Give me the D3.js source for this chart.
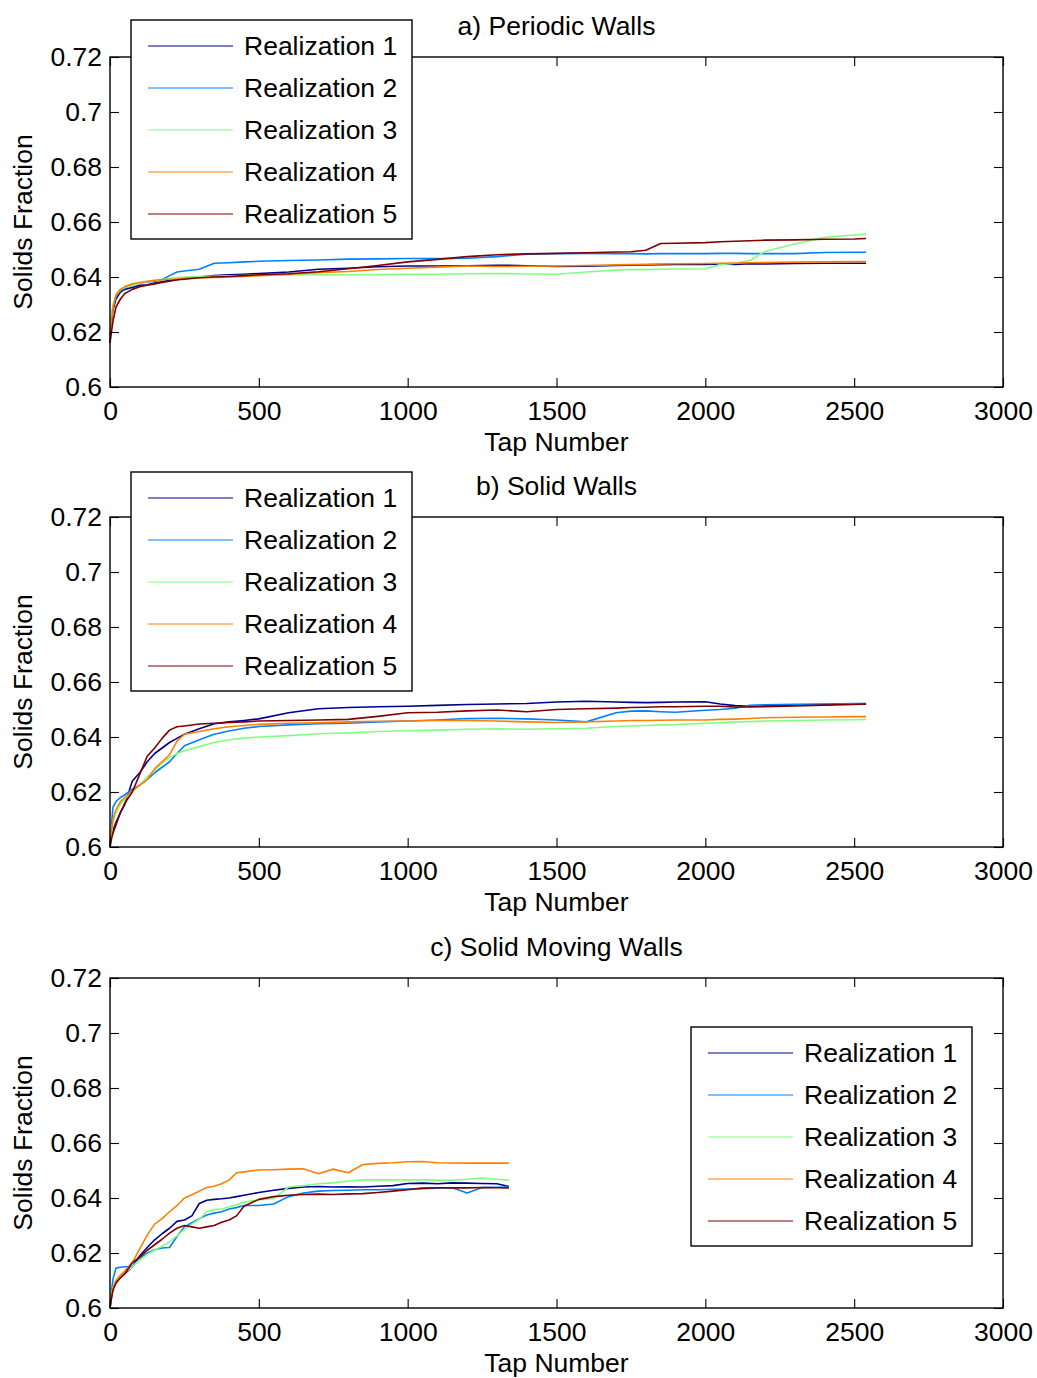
<!DOCTYPE html>
<html>
<head>
<meta charset="utf-8">
<script src="https://cdn.jsdelivr.net/npm/d3@7"></script>
<style>
  html, body { margin: 0; padding: 0; background: #fff; }
  svg { display: block; }
  text { font-family: "Liberation Sans", Arial, Helvetica, sans-serif; fill: #000; }
</style>
</head>
<body>
<svg id="chart" width="1037" height="1378"></svg>
<script>
// Tap numbers sampled for the long runs (panels a and b)
const tapsLong = [0,5,10,20,35,50,75,100,125,150,175,200,225,250,300,350,400,450,500,600,700,800,900,1000,1100,1200,1300,1400,1500,1600,1700,1750,1800,1850,1900,2000,2050,2100,2150,2200,2300,2400,2500,2540];
// Tap numbers sampled for the shorter moving-wall runs (panel c)
const tapsShort = [0,5,10,20,35,50,75,100,125,150,175,200,225,250,275,300,325,350,375,400,425,450,500,550,600,650,700,750,800,850,900,950,1000,1050,1100,1150,1200,1250,1300,1340];

const seriesNames = ["Realization 1","Realization 2","Realization 3","Realization 4","Realization 5"];
const seriesColors = ["#00008f","#0080ff","#80ff80","#ff8000","#800000"];

// a) Periodic walls
const periodic1 = [0.617,0.624,0.628,0.632,0.6345,0.6355,0.6362,0.637,0.6372,0.6378,0.6383,0.6388,0.639,0.6395,0.640,0.6405,0.6408,0.641,0.6413,0.6418,0.6428,0.6432,0.6437,0.644,0.644,0.6441,0.6443,0.6441,0.6438,0.6439,0.6442,0.6443,0.6444,0.6445,0.6446,0.6446,0.6447,0.6446,0.6448,0.6447,0.6449,0.645,0.645,0.645];
const periodic2 = [0.618,0.625,0.629,0.633,0.635,0.636,0.637,0.6378,0.6382,0.6385,0.639,0.6405,0.6418,0.6422,0.6428,0.645,0.6452,0.6455,0.6457,0.646,0.6462,0.6465,0.6466,0.6467,0.6467,0.6468,0.6474,0.6483,0.6485,0.6486,0.6485,0.6485,0.6484,0.6485,0.6485,0.6485,0.6486,0.6486,0.6485,0.6485,0.6485,0.6489,0.649,0.649];
const periodic3 = [0.618,0.626,0.630,0.6335,0.6355,0.6362,0.637,0.6378,0.6383,0.6388,0.639,0.6395,0.6398,0.640,0.6402,0.6403,0.6404,0.6405,0.6406,0.6407,0.6408,0.6408,0.6409,0.641,0.641,0.6412,0.6413,0.6411,0.641,0.6418,0.6425,0.6427,0.6427,0.6428,0.6429,0.643,0.6445,0.645,0.646,0.6493,0.652,0.6544,0.6553,0.6556];
const periodic4 = [0.616,0.624,0.629,0.6335,0.6355,0.6365,0.6375,0.638,0.6384,0.6388,0.639,0.6392,0.6393,0.6395,0.6397,0.6398,0.640,0.6402,0.6405,0.641,0.6416,0.642,0.6427,0.6432,0.6436,0.644,0.6438,0.6439,0.644,0.6442,0.6444,0.6445,0.6446,0.6447,0.6448,0.6449,0.645,0.6451,0.6452,0.6453,0.6454,0.6455,0.6456,0.6456];
const periodic5 = [0.616,0.620,0.624,0.629,0.632,0.634,0.6355,0.6365,0.637,0.6375,0.638,0.6385,0.639,0.6392,0.6397,0.640,0.6402,0.6405,0.6408,0.6412,0.6419,0.643,0.6442,0.6455,0.6464,0.6474,0.6481,0.6484,0.6486,0.6488,0.6491,0.6492,0.6497,0.6522,0.6523,0.6525,0.6528,0.653,0.6532,0.6534,0.6535,0.6537,0.6538,0.654];

// b) Solid walls
const solid1 = [0.601,0.604,0.606,0.609,0.6125,0.6155,0.624,0.627,0.631,0.634,0.636,0.638,0.6395,0.641,0.643,0.6448,0.6455,0.646,0.6466,0.6488,0.6503,0.6507,0.651,0.6512,0.6515,0.6518,0.652,0.6522,0.6527,0.653,0.6527,0.6526,0.6525,0.6526,0.6527,0.6528,0.652,0.6514,0.6512,0.6514,0.6516,0.6518,0.652,0.652];
const solid2 = [0.601,0.608,0.6145,0.6165,0.618,0.619,0.621,0.6225,0.6245,0.627,0.629,0.631,0.634,0.6368,0.639,0.641,0.6422,0.6432,0.6438,0.6444,0.6448,0.645,0.6455,0.6458,0.6462,0.6467,0.6468,0.6466,0.6462,0.6455,0.6488,0.6494,0.6495,0.6492,0.649,0.6497,0.65,0.6505,0.6515,0.6517,0.6519,0.652,0.6522,0.6522];
const solid3 = [0.600,0.605,0.609,0.6125,0.6155,0.6175,0.620,0.6225,0.6255,0.628,0.6305,0.6325,0.634,0.635,0.6365,0.638,0.639,0.6396,0.640,0.6405,0.6412,0.6415,0.642,0.6423,0.6425,0.6428,0.643,0.6428,0.643,0.6432,0.6438,0.644,0.6442,0.6444,0.6445,0.645,0.6453,0.6455,0.6456,0.6458,0.646,0.6462,0.6463,0.6464];
const solid4 = [0.600,0.606,0.610,0.6135,0.6165,0.618,0.6205,0.6225,0.6245,0.6285,0.631,0.6335,0.6385,0.641,0.642,0.643,0.6437,0.6442,0.6446,0.645,0.6452,0.6455,0.6457,0.6458,0.646,0.646,0.6458,0.6455,0.6453,0.6455,0.6458,0.646,0.646,0.6461,0.6462,0.6462,0.6464,0.6465,0.6467,0.647,0.6472,0.6473,0.6474,0.6474];
const solid5 = [0.600,0.603,0.605,0.608,0.6125,0.616,0.620,0.6265,0.633,0.636,0.6395,0.6425,0.6437,0.644,0.6447,0.645,0.6453,0.6455,0.6458,0.646,0.6462,0.6464,0.6475,0.6488,0.649,0.6495,0.6498,0.6492,0.65,0.6503,0.6505,0.6507,0.6508,0.651,0.651,0.6512,0.6512,0.6509,0.6509,0.651,0.6513,0.6516,0.6518,0.652];

// c) Solid moving walls
const moving1 = [0.600,0.6045,0.607,0.6095,0.611,0.6125,0.615,0.619,0.622,0.6248,0.627,0.629,0.6315,0.632,0.6335,0.638,0.6392,0.6395,0.6397,0.640,0.6405,0.641,0.642,0.6428,0.6435,0.644,0.6442,0.644,0.6441,0.644,0.6443,0.6445,0.6453,0.6454,0.6452,0.6455,0.6454,0.6453,0.6452,0.6442];
const moving2 = [0.600,0.606,0.6105,0.6145,0.6148,0.615,0.6152,0.618,0.620,0.6212,0.6218,0.622,0.626,0.6295,0.631,0.6325,0.6338,0.6345,0.635,0.636,0.6365,0.6373,0.6373,0.6378,0.6405,0.6418,0.6425,0.6427,0.6428,0.643,0.643,0.6432,0.6433,0.6434,0.6436,0.6437,0.6418,0.6438,0.6439,0.644];
const moving3 = [0.600,0.605,0.6075,0.610,0.6115,0.613,0.615,0.6175,0.6195,0.621,0.6225,0.624,0.6262,0.6285,0.6305,0.6323,0.635,0.6358,0.636,0.6368,0.6375,0.6385,0.6393,0.6398,0.644,0.6445,0.6452,0.6455,0.6462,0.6466,0.6466,0.6466,0.6466,0.6466,0.6465,0.6464,0.6468,0.6473,0.6468,0.6465];
const moving4 = [0.600,0.604,0.607,0.610,0.612,0.6135,0.6165,0.6215,0.6265,0.6305,0.6325,0.635,0.6372,0.640,0.6412,0.6425,0.6438,0.6443,0.6452,0.6465,0.6492,0.6495,0.6502,0.6503,0.6505,0.6506,0.6488,0.6505,0.6492,0.6522,0.6526,0.6528,0.6532,0.6533,0.6528,0.6527,0.6527,0.6527,0.6527,0.6527];
const moving5 = [0.600,0.6035,0.6065,0.609,0.611,0.6125,0.6165,0.6185,0.621,0.623,0.625,0.6272,0.629,0.630,0.6295,0.629,0.6295,0.630,0.6312,0.632,0.6335,0.637,0.6395,0.6405,0.641,0.6413,0.6414,0.6413,0.6415,0.6416,0.642,0.6425,0.643,0.6436,0.6437,0.6437,0.6437,0.6438,0.6437,0.6437];

// Axis ticks
const xTicks = [0,500,1000,1500,2000,2500,3000];
const yTicks = [0.6,0.62,0.64,0.66,0.68,0.7,0.72];
const xTickLabels = ["0","500","1000","1500","2000","2500","3000"];
const yTickLabels = ["0.6","0.62","0.64","0.66","0.68","0.7","0.72"];

const panels = [
  { title: "a) Periodic Walls",      taps: tapsLong,  series: [periodic1,periodic2,periodic3,periodic4,periodic5], top: 57,  legendX: 131, legendY: 20 },
  { title: "b) Solid Walls",         taps: tapsLong,  series: [solid1,solid2,solid3,solid4,solid5],                top: 517, legendX: 131, legendY: 472 },
  { title: "c) Solid Moving Walls",  taps: tapsShort, series: [moving1,moving2,moving3,moving4,moving5],           top: 978, legendX: 691, legendY: 1027 }
];

const svg = d3.select("#chart");
const left = 110, right = 1003, plotH = 330;
const fontSize = 26.5;
const tickLen = 9;

const x = d3.scaleLinear().domain([0, 3000]).range([left, right]);

panels.forEach(p => {
  const y = d3.scaleLinear().domain([0.6, 0.72]).range([p.top + plotH, p.top]);
  const g = svg.append("g");

  // data lines
  const line = d3.line().x(d => x(d[0])).y(d => y(d[1]));
  p.series.forEach((vals, i) => {
    const pts = p.taps.map((t, k) => [t, vals[k]]);
    g.append("path")
      .datum(pts)
      .attr("fill", "none")
      .attr("stroke", seriesColors[i])
      .attr("stroke-width", 1.6)
      .attr("stroke-linejoin", "round")
      .attr("d", line);
  });

  // axes with inward ticks on all four sides
  const fmtX = (d, i) => xTickLabels[i];
  const fmtY = (d, i) => yTickLabels[i];
  const bottom = g.append("g").attr("transform", `translate(0,${p.top + plotH})`)
    .call(d3.axisBottom(x).tickValues(xTicks).tickFormat(fmtX).tickSizeInner(-tickLen).tickSizeOuter(0).tickPadding(14));
  const topAx = g.append("g").attr("transform", `translate(0,${p.top})`)
    .call(d3.axisTop(x).tickValues(xTicks).tickFormat("").tickSizeInner(-tickLen).tickSizeOuter(0));
  const leftAx = g.append("g").attr("transform", `translate(${left},0)`)
    .call(d3.axisLeft(y).tickValues(yTicks).tickFormat(fmtY).tickSizeInner(-tickLen).tickSizeOuter(0).tickPadding(8));
  const rightAx = g.append("g").attr("transform", `translate(${right},0)`)
    .call(d3.axisRight(y).tickValues(yTicks).tickFormat("").tickSizeInner(-tickLen).tickSizeOuter(0));
  [bottom, topAx, leftAx, rightAx].forEach(a => {
    a.select(".domain").remove();
    a.selectAll("line").attr("stroke", "#000").attr("stroke-width", 1.1);
    a.selectAll("text").attr("font-size", fontSize).attr("font-family", "Liberation Sans, Arial, sans-serif").attr("fill", "#000");
  });

  // frame
  g.append("rect")
    .attr("x", left).attr("y", p.top)
    .attr("width", right - left).attr("height", plotH)
    .attr("fill", "none").attr("stroke", "#000").attr("stroke-width", 1.4);

  // title
  g.append("text")
    .attr("x", (left + right) / 2).attr("y", p.top - 22)
    .attr("text-anchor", "middle").attr("font-size", fontSize)
    .text(p.title);

  // axis labels
  g.append("text")
    .attr("x", (left + right) / 2).attr("y", p.top + plotH + 64)
    .attr("text-anchor", "middle").attr("font-size", fontSize)
    .text("Tap Number");
  g.append("text")
    .attr("transform", `translate(32,${p.top + plotH / 2}) rotate(-90)`)
    .attr("text-anchor", "middle").attr("font-size", fontSize)
    .text("Solids Fraction");

  // legend
  const lg = g.append("g").attr("transform", `translate(${p.legendX},${p.legendY})`);
  lg.append("rect")
    .attr("width", 281).attr("height", 219)
    .attr("fill", "#fff").attr("stroke", "#000").attr("stroke-width", 1.4);
  seriesNames.forEach((name, i) => {
    const ry = 26 + i * 42;
    lg.append("line")
      .attr("x1", 17).attr("x2", 102).attr("y1", ry).attr("y2", ry)
      .attr("stroke", seriesColors[i]).attr("stroke-width", 1.2);
    lg.append("text")
      .attr("x", 113).attr("y", ry).attr("dy", "0.35em")
      .attr("font-size", fontSize)
      .text(name);
  });
});
</script>
</body>
</html>
